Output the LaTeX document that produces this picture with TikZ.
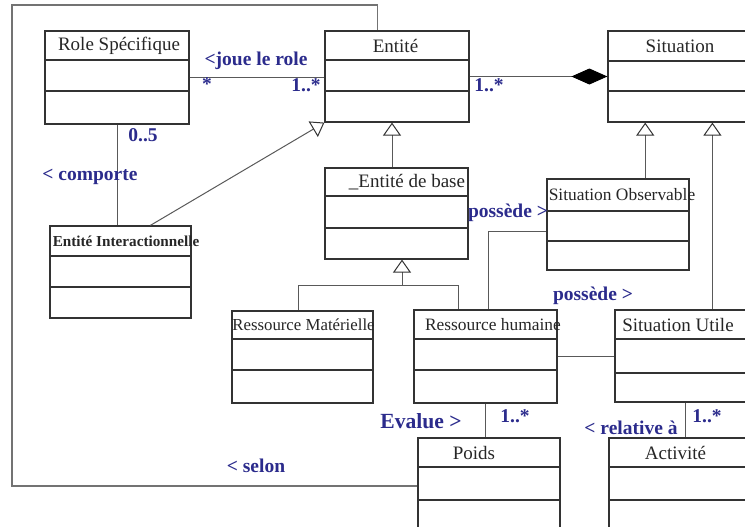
\documentclass[tikz,border=0pt]{standalone}
\usepackage{fontspec}
\setmainfont{Liberation Serif}
\usepackage{tikz}
\usetikzlibrary{positioning, arrows.meta, fit, calc}
\definecolor{Bleu}{rgb}{0.17,0.17,0.55}
\tikzstyle{classe}=[%
      rectangle, draw=black!80, line width=0.6pt, fill=none, inner sep=0pt
]
\tikzstyle{trait}=[%
      draw=black!80, line width=0.6pt
]
\tikzstyle{titre}=[%
      text=black!85, font=\fontsize{9.5}{11}\selectfont, inner sep=0pt
]
\tikzstyle{lbl}=[%
      text=Bleu, font=\bfseries\fontsize{9.75}{11}\selectfont, inner sep=1pt
]
\tikzstyle{lien}=[draw=black!65, line width=0.5pt]
\tikzstyle{gen}=[lien, -{Triangle[open, length=6.5pt, width=9pt, black!80]}]
\tikzstyle{compo}=[lien, -{Diamond[length=18pt, width=8pt, black]}]
\tikzstyle{bord}=[draw=black!55, line width=0.9pt]

\newcommand{\classeuml}[9]{%
  \node[classe, fit={(#2,#3) (#4,#5)}] (#1) {};
  \draw[trait] (#2,#6) -- (#4,#6);
  \draw[trait] (#2,#7) -- (#4,#7);
  \node[titre, xshift=#9] (#1-titre) at ($(#2,#3)!0.5!(#4,#6)$) {#8};
}

\begin{document}
\begin{tikzpicture}[x=0.5pt, y=-0.5pt]
    \useasboundingbox (0,0) rectangle (745,526);
    \clip (0,0) rectangle (745,526);

    \classeuml{role}{45}{31}{189}{124}{60}{91}{Role Spécifique}{1pt}
    \classeuml{entite}{325}{31}{469}{122}{60}{91}{Entité}{-0.75pt}
    \classeuml{situation}{608}{31}{752}{122}{61}{91}{Situation}{0pt}
    \classeuml{base}{325}{168}{468}{259}{196}{228}{\_Entité de base}{5.25pt}
    \classeuml{sitobs}{547}{179}{689}{270}{211}{241}{{\fontsize{8.7}{10}\selectfont Situation Observable}}{2pt}
    \classeuml{interact}{50}{226}{191}{318}{256}{287}{{\bfseries\fontsize{7.6}{9}\selectfont Entité Interactionnelle}}{2.75pt}
    \classeuml{rmat}{232}{311}{373}{403}{339}{370}{{\fontsize{8.4}{10}\selectfont Ressource Matérielle}}{0.5pt}
    \classeuml{rhum}{414}{310}{557}{403}{339}{370}{{\fontsize{8.7}{10}\selectfont Ressource humaine}}{3.75pt}
    \classeuml{situtile}{615}{310}{750}{402}{339}{373}{Situation Utile}{-2.25pt}
    \classeuml{poids}{418}{438}{560}{534}{467}{500}{Poids}{-7.5pt}
    \classeuml{activite}{609}{438}{750}{560}{467}{500}{Activité}{-2pt}

    \coordinate (cadre) at (12,5);
    \coordinate (entite-haut) at ([xshift=26.5pt]entite.north west);
    \coordinate (base-haut) at ([xshift=-2.25pt]base.north);
    \coordinate (base-bas) at ([xshift=2.75pt]base.south);
    \coordinate (inter-haut) at ($(interact.north west)!0.71!(interact.north east)$);
    \coordinate (obs-haut) at ($(sitobs.north west)!0.69!(sitobs.north east)$);
    \coordinate (utile-haut) at ([xshift=49pt]situtile.north west);
    \coordinate (utile-bas) at ([xshift=35.5pt]situtile.south west);
    \coordinate (mat-haut) at ($(rmat.north west)!0.47!(rmat.north east)$);
    \coordinate (hum-haut) at ($(rhum.north west)!0.31!(rhum.north east)$);
    \coordinate (hum-obs) at ($(rhum.north west)!0.52!(rhum.north east)$);

    \draw[lien] (role.east) -- (role.east -| entite.west);
    \draw[compo] (entite.east) -- (situation.west);
    \draw[lien] (role.south) -- (role.south |- interact.north);
    \draw[gen] (inter-haut) -- (entite.south west);
    \draw[gen] (base-haut) -- (base-haut |- entite.south);
    \draw[gen] (obs-haut) -- (obs-haut |- situation.south);
    \draw[gen] (utile-haut) -- (utile-haut |- situation.south);
    \draw[lien] (mat-haut) -- ++(0,-25) coordinate (fourche) -| (hum-haut);
    \draw[gen] (fourche -| base-bas) -- (base-bas);
    \draw[lien] (hum-obs) |- ([yshift=-3.25pt]sitobs.west);
    \draw[lien] (rhum.east) -- (rhum.east -| situtile.west);
    \draw[lien] (rhum.south) -- (rhum.south |- poids.north);
    \draw[lien] (utile-bas) -- (utile-bas |- activite.north);
    \draw[bord] (poids.west) -| (cadre) -| (entite-haut);

    \node[lbl] (joue)     at (256,61)  {<joue le role};
    \node[lbl] (mult1)    at (207,84)  {*};
    \node[lbl] (mult2)    at (306,85)  {1..*};
    \node[lbl] (mult3)    at (489,85)  {1..*};
    \node[lbl] (card)     at (143,135) {0..5};
    \node[lbl] (comporte) at (90,177)  {< comporte};
    \node[lbl] (possede1) at (508,213) {possède >};
    \node[lbl] (possede2) at (593,296) {possède >};
    \node[lbl, font=\bfseries\fontsize{10.8}{12}\selectfont] (evalue) at (421,421) {Evalue >};
    \node[lbl] (mult4)    at (515,416) {1..*};
    \node[lbl] (relative) at (631,428) {< relative à};
    \node[lbl] (mult5)    at (707,416) {1..*};
    \node[lbl] (selon)    at (256,466) {< selon};
\end{tikzpicture}
\end{document}
